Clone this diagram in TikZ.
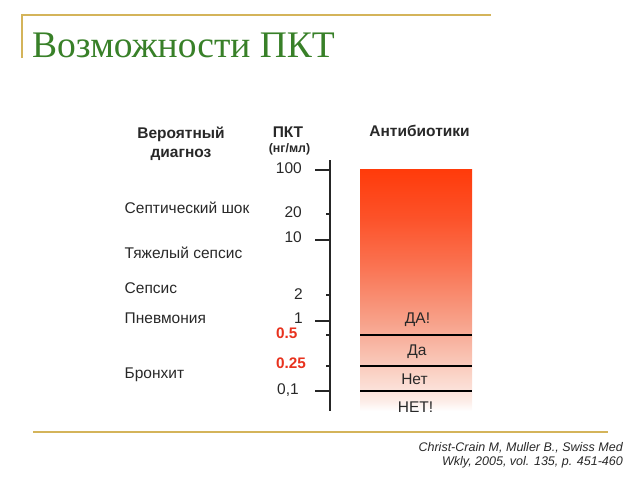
\documentclass[tikz,border=0pt]{standalone}
\usepackage{fontspec}
\setmainfont{Liberation Serif}
\setsansfont{Liberation Sans}
\definecolor{gold}{RGB}{212,180,90}
\definecolor{titlegreen}{RGB}{56,128,40}
\definecolor{txt}{RGB}{40,40,40}
\definecolor{redlbl}{RGB}{232,50,30}
\pgfdeclareverticalshading{barshade}{100bp}{rgb(0bp)=(1,1,1); rgb(25bp)=(1,1,1); rgb(27bp)=(0.99,0.93,0.91); rgb(33bp)=(0.98,0.82,0.77); rgb(43bp)=(0.97,0.64,0.55); rgb(55bp)=(0.98,0.45,0.32); rgb(65bp)=(0.99,0.32,0.16); rgb(75bp)=(1,0.23,0.04); rgb(100bp)=(1,0.23,0.04)}
\begin{document}
\begin{tikzpicture}[x=1pt,y=-1pt,
  lbl/.style={font=\sffamily\fontsize{15.5}{18}\selectfont, text=txt, inner sep=0pt},
  hdr/.style={font=\sffamily\bfseries\fontsize{15.5}{18}\selectfont, text=txt, inner sep=0pt},
  num/.style={font=\sffamily\fontsize{15.5}{18}\selectfont, text=txt, inner sep=0pt},
  rnum/.style={font=\sffamily\bfseries\fontsize{15.3}{18}\selectfont, text=redlbl, inner sep=0pt},
  tickline/.style={line width=2pt, black!85},
  sep/.style={line width=2.8pt, black},
  goldline/.style={line width=1.3pt, gold}]
\useasboundingbox (0,0) rectangle (640,480);
% frame lines
\coordinate (tl) at (22,15);
\coordinate (tr) at (491,15);
\coordinate (tb) at (22,58);
\draw[goldline] (tb) -- (tl) -- (tr);
\coordinate (bl) at (33,432);
\coordinate (br) at (608,432);
\draw[goldline] (bl) -- (br);
% title
\node[anchor=base west, inner sep=0pt, text=titlegreen, font=\rmfamily\fontsize{37.5}{42}\selectfont] (title) at (32,57) {Возможности ПКТ};
% headers
\node[hdr, anchor=base] (h1a) at (181,138) {Вероятный};
\node[hdr, anchor=base] (h1b) at (181,157) {диагноз};
\node[hdr, anchor=base] (h2) at (288,137.5) {ПКТ};
\node[font=\sffamily\bfseries\fontsize{12.4}{14}\selectfont, text=txt, inner sep=0pt, anchor=base] (h2b) at (289.5,152.5) {(нг/мл)};
\node[hdr, anchor=base] (h3) at (419.5,136.5) {Антибиотики};
% bar
\path[shading=barshade] (360,169) rectangle (472,411);
\coordinate (s1l) at (360,335); \coordinate (s1r) at (472,335);
\coordinate (s2l) at (360,366); \coordinate (s2r) at (472,366);
\coordinate (s3l) at (360,391); \coordinate (s3r) at (472,391);
\draw[sep] (s1l) -- (s1r);
\draw[sep] (s2l) -- (s2r);
\draw[sep] (s3l) -- (s3r);
\node[lbl, anchor=base] (a1) at (417.5,323.5) {ДА!};
\node[lbl, anchor=base] (a2) at (417,355) {Да};
\node[lbl, anchor=base] (a3) at (414.5,384.5) {Нет};
\node[lbl, anchor=base] (a4) at (415.5,412.5) {НЕТ!};
% axis
\coordinate (at) at (330,160);
\coordinate (ab) at (330,411);
\draw[tickline] (at) -- (ab);
\foreach \y/\x/\n in {169.5/315/t100, 214/326/t20, 240/315/t10, 295/326/t2, 320.5/315/t1, 335/326/t05, 366/326/t025, 391/315/t01}{
  \coordinate (\n) at (\x,\y);
  \draw[tickline] (\n) -- (330,\y);
}
\node[num, anchor=base east] (n100) at (302,173) {100};
\node[num, anchor=base east] (n20) at (302,217) {20};
\node[num, anchor=base east] (n10) at (302,242) {10};
\node[num, anchor=base east] (n2) at (303,299.5) {2};
\node[num, anchor=base east] (n1) at (303,323.5) {1};
\node[rnum, anchor=base west] (n05) at (276,338.5) {0.5};
\node[rnum, anchor=base west] (n025) at (276,368.5) {0.25};
\node[num, anchor=base west] (n01) at (277,394.5) {0,1};
% diagnoses
\node[lbl, anchor=base west] (d1) at (124.5,213.5) {Септический шок};
\node[lbl, anchor=base west] (d2) at (124.5,258.5) {Тяжелый сепсис};
\node[lbl, anchor=base west] (d3) at (124.5,293.5) {Сепсис};
\node[lbl, anchor=base west] (d4) at (124.5,323.5) {Пневмония};
\node[lbl, anchor=base west] (d5) at (124.5,378.5) {Бронхит};
% citation
\node[font=\sffamily\itshape\fontsize{12.5}{14}\selectfont, text=txt, inner sep=0pt, anchor=base east] (cite1) at (623,451.5) {Christ-Crain M, Muller B., Swiss Med};
\node[font=\sffamily\itshape\fontsize{12.5}{14}\selectfont, text=txt, inner sep=0pt, anchor=base east] (cite2) at (623,465.5) {Wkly, 2005, vol. 135, p. 451-460};
\end{tikzpicture}
\end{document}
